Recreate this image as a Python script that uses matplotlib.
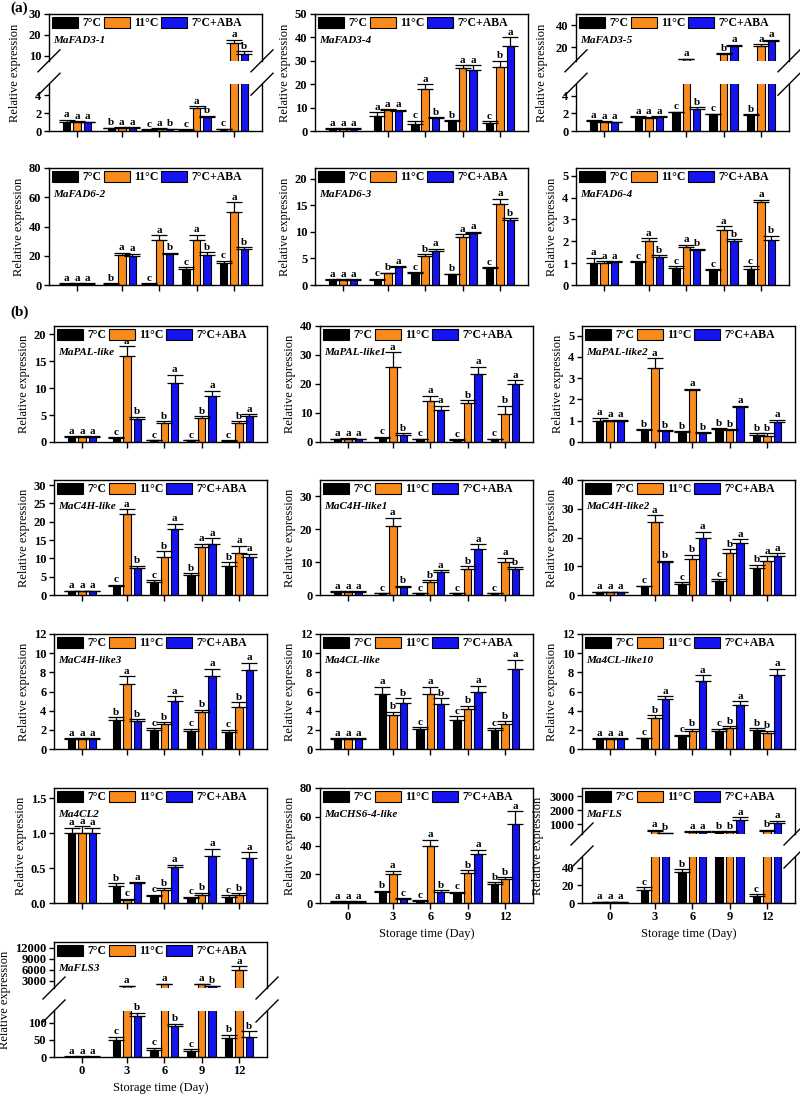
import numpy as np
import matplotlib
matplotlib.use("Agg")
import matplotlib.pyplot as plt
from matplotlib.patches import Patch
from matplotlib.lines import Line2D

plt.rcParams['font.family'] = ['Liberation Serif', 'DejaVu Serif']
plt.rcParams['font.weight'] = 'bold'
plt.rcParams['axes.linewidth'] = 1.0

days = ["0", "3", "6", "9", "12"]
treatments = ["7°C", "11°C", "7°C+ABA"]
colors = ["#000000", "#F98A1C", "#1414F0"]

# values per treatment (7C, 11C, 7C+ABA) over days 0,3,6,9,12; letters per day (7C,11C,ABA)
fad3_1_mean = [[1.0, 0.3, 0.15, 0.15, 0.2], [1.0, 0.35, 0.25, 2.6, 16.2], [1.0, 0.35, 0.22, 1.6, 11.0]]
fad3_1_err = [[0.25, 0.05, 0.05, 0.05, 0.05], [0.1, 0.1, 0.05, 0.15, 1.5], [0.05, 0.05, 0.05, 0.1, 1.0]]
fad3_1_sig = ["aaa", "baa", "cab", "cab", "cab"]

fad3_4_mean = [[1, 6.5, 3.2, 4.3, 3.5], [1, 8.8, 18, 27, 27.5], [1, 8.5, 5.5, 26, 36.5]]
fad3_4_err = [[0.3, 1.5, 1.2, 0.4, 0.6], [0.2, 0.5, 2, 1.2, 2.5], [0.2, 0.6, 0.3, 2, 3.5]]
fad3_4_sig = ["aaa", "aaa", "cab", "baa", "cba"]

fad3_5_mean = [[1.1, 1.6, 2.1, 1.9, 1.8], [1.0, 1.5, 9.0, 13.5, 21.5], [1.0, 1.6, 2.5, 21, 25.5]]
fad3_5_err = [[0.1, 0.1, 0.1, 0.05, 0.1], [0.1, 0.1, 0.4, 1, 1.5], [0.05, 0.1, 0.2, 1.5, 1.5]]
fad3_5_sig = ["aaa", "aaa", "cab", "cba", "baa"]

fad6_2_mean = [[1, 1, 1, 11, 15], [1, 20.5, 30.5, 31, 50], [1, 20, 21, 20.5, 24.5]]
fad6_2_err = [[0.2, 0.3, 0.3, 1.2, 1.5], [0.2, 1.5, 3.5, 3.5, 6.5], [0.2, 1.5, 1, 2, 1.5]]
fad6_2_sig = ["aaa", "baa", "cab", "cab", "cab"]

fad6_3_mean = [[1, 1.0, 2.2, 2.0, 3.2], [1, 2.2, 5.5, 9, 15.2], [1, 3.3, 6.3, 9.7, 12.3]]
fad6_3_err = [[0.1, 0.2, 0.2, 0.1, 0.1], [0.1, 0.1, 0.3, 0.5, 1], [0.1, 0.2, 0.5, 0.3, 0.3]]
fad6_3_sig = ["aaa", "cba", "cba", "baa", "cab"]

fad6_4_mean = [[1.0, 1.05, 0.8, 0.7, 0.75], [1.0, 2.0, 1.75, 2.5, 3.8], [1.05, 1.3, 1.6, 2.0, 2.05]]
fad6_4_err = [[0.25, 0.05, 0.05, 0.02, 0.1], [0.1, 0.15, 0.1, 0.2, 0.1], [0.05, 0.05, 0.05, 0.1, 0.2]]
fad6_4_sig = ["aaa", "cab", "cab", "cab", "cab"]

pal_mean = [[1, 0.8, 0.3, 0.3, 0.25], [1, 16, 3.5, 4.5, 3.5], [1, 4.3, 11, 8.5, 4.8]]
pal_err = [[0.1, 0.1, 0.05, 0.05, 0.05], [0.1, 1.8, 0.3, 0.3, 0.3], [0.1, 0.4, 1.5, 1, 0.3]]
pal_sig = ["aaa", "cab", "cba", "cba", "cba"]

pal1_mean = [[1, 1.5, 1, 0.8, 1], [1, 26, 14, 13.5, 9.5], [1, 2.5, 11, 23.5, 20]]
pal1_err = [[0.2, 0.3, 0.2, 0.2, 0.2], [0.3, 5, 2, 1, 3], [0.2, 0.5, 1.5, 2.5, 1.3]]
pal1_sig = ["aaa", "cab", "caa", "cba", "cba"]

pal2_mean = [[1.0, 0.55, 0.45, 0.6, 0.35], [1.0, 3.5, 2.45, 0.55, 0.3], [1.0, 0.5, 0.4, 1.65, 0.95]]
pal2_err = [[0.15, 0.05, 0.05, 0.05, 0.05], [0.05, 0.45, 0.05, 0.05, 0.1], [0.05, 0.05, 0.05, 0.05, 0.1]]
pal2_sig = ["aaa", "bab", "bab", "bba", "bba"]

c4h_mean = [[1, 2.5, 3.5, 5.5, 8], [1, 22, 10.5, 13, 11.5], [1, 7.5, 18, 14, 10.5]]
c4h_err = [[0.2, 0.3, 0.5, 0.5, 1], [0.2, 1.5, 1.5, 1, 2], [0.2, 0.5, 1.5, 1.5, 0.8]]
c4h_sig = ["aaa", "cab", "cba", "baa", "baa"]

c4h1_mean = [[1, 0.5, 0.5, 0.5, 0.5], [1, 21, 4, 8, 10], [1, 2.5, 7, 14, 8]]
c4h1_err = [[0.2, 0.1, 0.1, 0.1, 0.1], [0.2, 2.5, 0.5, 0.8, 1.3], [0.2, 0.3, 0.6, 1.5, 0.5]]
c4h1_sig = ["aaa", "cab", "cba", "cba", "cab"]

c4h2_mean = [[1, 3, 4, 5, 9.5], [1, 25.5, 12.5, 14.5, 12], [1, 11.5, 20, 18, 13.5]]
c4h2_err = [[0.2, 0.3, 0.4, 0.5, 1], [0.2, 2.3, 1.5, 1.5, 1.5], [0.2, 0.5, 2, 1.5, 1]]
c4h2_sig = ["aaa", "cab", "cba", "cba", "baa"]

c4h3_mean = [[1, 3.0, 2.0, 1.9, 1.8], [1, 6.8, 2.6, 3.9, 4.4], [1, 2.9, 5.0, 7.6, 8.2]]
c4h3_err = [[0.1, 0.3, 0.2, 0.2, 0.2], [0.1, 0.8, 0.2, 0.2, 0.5], [0.1, 0.2, 0.5, 0.8, 0.8]]
c4h3_sig = ["aaa", "bab", "cba", "cba", "cba"]

cl_mean = [[1, 5.7, 2.1, 3.0, 2.0], [1, 3.5, 5.7, 4.2, 2.6], [1, 4.8, 4.7, 5.9, 8.3]]
cl_err = [[0.1, 0.8, 0.2, 0.4, 0.2], [0.1, 0.4, 0.8, 0.3, 0.3], [0.1, 0.5, 0.6, 0.7, 1.0]]
cl_sig = ["aaa", "abb", "cab", "cba", "cba"]

cl10_mean = [[1, 1.1, 1.4, 1.9, 2.0], [1, 3.2, 1.9, 2.2, 1.7], [1, 5.2, 7.1, 4.6, 7.7]]
cl10_err = [[0.1, 0.1, 0.1, 0.2, 0.2], [0.1, 0.3, 0.2, 0.2, 0.2], [0.1, 0.3, 0.6, 0.4, 0.7]]
cl10_sig = ["aaa", "cba", "cba", "cba", "bba"]

cl2_mean = [[1.0, 0.25, 0.1, 0.07, 0.09], [1.0, 0.05, 0.18, 0.12, 0.12], [1.0, 0.28, 0.52, 0.68, 0.65]]
cl2_err = [[0.08, 0.03, 0.02, 0.02, 0.02], [0.1, 0.01, 0.03, 0.03, 0.02], [0.08, 0.02, 0.03, 0.1, 0.08]]
cl2_sig = ["aaa", "bca", "cba", "cba", "cba"]

chs_mean = [[1, 7.5, 1.5, 7, 13], [1, 20.5, 40, 21, 16.5], [1, 3, 8, 34, 55]]
chs_err = [[0.2, 1, 0.3, 1, 1.5], [0.2, 2, 4, 2, 1.5], [0.2, 0.5, 1, 3, 9]]
chs_sig = ["aaa", "bac", "cab", "cba", "bba"]

fls_mean = [[1, 15, 35, 450, 8], [1, 550, 450, 450, 550], [1, 350, 450, 1300, 1100]]
fls_err = [[0.3, 3, 3, 40, 2], [0.3, 60, 40, 40, 50], [0.3, 40, 40, 200, 150]]
fls_sig = ["aaa", "cab", "baa", "bba", "cba"]

fls3_mean = [[1, 50, 22, 18, 55], [1, 1500, 2000, 2000, 6000], [1, 120, 90, 1500, 60]]
fls3_err = [[0.5, 10, 5, 5, 10], [0.5, 150, 200, 200, 900], [0.5, 10, 8, 150, 15]]
fls3_sig = ["aaa", "cab", "cab", "cab", "bab"]

W, H = 800, 1097
fig = plt.figure(figsize=(W / 100, H / 100), dpi=100)

xpos = np.array([0, 1.2, 2.2, 3.2, 4.2])
xlim = (-0.75, 4.95)
offset, bw = 0.28, 0.2
panel_w = 213

rows_a = [(14, 131), (168, 285)]
rows_b = [(326, 442), (480, 595), (634, 749), (788, 903), (942, 1057)]
cols_a = [49, 315, 576]
cols_b = [54, 320, 582]

FS = 9


def to_rect(x, top, bot):
    return [x / W, 1 - bot / H, panel_w / W, (bot - top) / H]


def draw_bars(ax, mean, err, sig):
    for i in range(3):
        xs = xpos + (i - 1) * offset
        m = np.array(mean[i], dtype=float)
        e = np.array(err[i], dtype=float)
        ax.bar(xs, m, width=bw, color=colors[i], edgecolor="black", lw=0.8, zorder=2)
        ax.errorbar(xs, m, yerr=[np.zeros(5), e], fmt="none", ecolor="black",
                    elinewidth=0.9, capsize=6, capthick=0.9, zorder=3)
        for j in range(5):
            ax.annotate(sig[j][i], (xs[j], m[j] + e[j]), xytext=(0, 0.3),
                        textcoords="offset points", ha="center", va="bottom",
                        fontsize=8, zorder=4)


def style(ax, ylim, yticks, bottom_labels, show_x=True):
    ax.set_xlim(xlim)
    ax.set_ylim(ylim)
    ax.set_yticks(yticks)
    ax.tick_params(axis="y", direction="out", length=3.5, width=1, labelsize=FS, pad=2)
    if show_x:
        ax.set_xticks(xpos)
        ax.tick_params(axis="x", direction="out", length=4, width=1, labelsize=FS, pad=2)
        if bottom_labels:
            ax.set_xticklabels(days)
            ax.set_xlabel("Storage time (Day)", fontsize=FS, labelpad=3)
        else:
            ax.set_xticklabels([])
    else:
        ax.set_xticks([])


def add_head(ax, name):
    handles = [Patch(facecolor=c, edgecolor="black", lw=0.8) for c in colors]
    ax.legend(handles, treatments, ncol=3, loc="upper left", bbox_to_anchor=(0.0, 1.0),
              frameon=False, fontsize=8.5, handlelength=2.2, handleheight=1.0,
              handletextpad=0.35, columnspacing=0.25, borderaxespad=0.15, borderpad=0.1)
    ax.annotate(name, xy=(0, 1), xycoords="axes fraction", xytext=(3, -15.5),
                textcoords="offset points", va="top", ha="left", fontsize=8, style="italic")


def slash(xf, yf):
    dx, dy = 11 / W, 11 / H
    fig.add_artist(Line2D([xf - dx, xf + dx], [yf - dy, yf + dy], color="black", lw=1.0))


def simple_panel(x, top, bot, name, mean, err, sig, ylim, yticks, bottom_labels=False):
    ax = fig.add_axes(to_rect(x, top, bot))
    draw_bars(ax, mean, err, sig)
    style(ax, ylim, yticks, bottom_labels)
    ax.set_ylabel("Relative expression", fontsize=FS, labelpad=3)
    add_head(ax, name)
    return ax


def broken_panel(x, top, bot, name, mean, err, sig, low_lim, low_ticks, up_lim, up_ticks,
                 bottom_labels=False):
    h = bot - top
    up_bot = top + 0.40 * h
    low_top = top + 0.60 * h
    ax_up = fig.add_axes(to_rect(x, top, up_bot))
    ax_lo = fig.add_axes(to_rect(x, low_top, bot))
    for ax in (ax_up, ax_lo):
        draw_bars(ax, mean, err, sig)
    style(ax_up, up_lim, up_ticks, False, show_x=False)
    style(ax_lo, low_lim, low_ticks, bottom_labels)
    ax_up.spines["bottom"].set_visible(False)
    ax_lo.spines["top"].set_visible(False)
    ax_lo.set_ylabel("Relative expression", fontsize=FS)
    ndig = len(str(up_ticks[-1]))
    lab_x = {2: -0.13, 4: -0.18, 5: -0.2}.get(ndig, -0.13)
    ax_lo.yaxis.set_label_coords(lab_x, h / (bot - low_top) / 2)
    add_head(ax_up, name)
    for xp in (x, x + panel_w):
        slash(xp / W, 1 - up_bot / H)
        slash(xp / W, 1 - low_top / H)
    return ax_up, ax_lo


# (a)
broken_panel(cols_a[0], *rows_a[0], "MaFAD3-1", fad3_1_mean, fad3_1_err, fad3_1_sig,
             (0, 5.2), [0, 2, 4], (7.5, 30), [10, 20, 30])
simple_panel(cols_a[1], *rows_a[0], "MaFAD3-4", fad3_4_mean, fad3_4_err, fad3_4_sig,
             (0, 50), [0, 10, 20, 30, 40, 50])
broken_panel(cols_a[2], *rows_a[0], "MaFAD3-5", fad3_5_mean, fad3_5_err, fad3_5_sig,
             (0, 5.3), [0, 2, 4], (7.6, 50.5), [20, 40])
simple_panel(cols_a[0], *rows_a[1], "MaFAD6-2", fad6_2_mean, fad6_2_err, fad6_2_sig,
             (0, 80), [0, 20, 40, 60, 80])
simple_panel(cols_a[1], *rows_a[1], "MaFAD6-3", fad6_3_mean, fad6_3_err, fad6_3_sig,
             (0, 22), [0, 5, 10, 15, 20])
simple_panel(cols_a[2], *rows_a[1], "MaFAD6-4", fad6_4_mean, fad6_4_err, fad6_4_sig,
             (0, 5.35), [0, 1, 2, 3, 4, 5])

# (b)
simple_panel(cols_b[0], *rows_b[0], "MaPAL-like", pal_mean, pal_err, pal_sig,
             (0, 21.5), [0, 5, 10, 15, 20])
simple_panel(cols_b[1], *rows_b[0], "MaPAL-like1", pal1_mean, pal1_err, pal1_sig,
             (0, 40), [0, 10, 20, 30, 40])
simple_panel(cols_b[2], *rows_b[0], "MaPAL-like2", pal2_mean, pal2_err, pal2_sig,
             (0, 5.45), [0, 1, 2, 3, 4, 5])
simple_panel(cols_b[0], *rows_b[1], "MaC4H-like", c4h_mean, c4h_err, c4h_sig,
             (0, 31.4), [0, 5, 10, 15, 20, 25, 30])
simple_panel(cols_b[1], *rows_b[1], "MaC4H-like1", c4h1_mean, c4h1_err, c4h1_sig,
             (0, 35), [0, 10, 20, 30])
simple_panel(cols_b[2], *rows_b[1], "MaC4H-like2", c4h2_mean, c4h2_err, c4h2_sig,
             (0, 40), [0, 10, 20, 30, 40])
simple_panel(cols_b[0], *rows_b[2], "MaC4H-like3", c4h3_mean, c4h3_err, c4h3_sig,
             (0, 12), [0, 2, 4, 6, 8, 10, 12])
simple_panel(cols_b[1], *rows_b[2], "Ma4CL-like", cl_mean, cl_err, cl_sig,
             (0, 12), [0, 2, 4, 6, 8, 10, 12])
simple_panel(cols_b[2], *rows_b[2], "Ma4CL-like10", cl10_mean, cl10_err, cl10_sig,
             (0, 12), [0, 2, 4, 6, 8, 10, 12])
simple_panel(cols_b[0], *rows_b[3], "Ma4CL2", cl2_mean, cl2_err, cl2_sig,
             (0, 1.65), [0, 0.5, 1.0, 1.5])
simple_panel(cols_b[1], *rows_b[3], "MaCHS6-4-like", chs_mean, chs_err, chs_sig,
             (0, 80), [0, 20, 40, 60, 80], bottom_labels=True)
broken_panel(cols_b[2], *rows_b[3], "MaFLS", fls_mean, fls_err, fls_sig,
             (0, 52), [0, 20, 40], (300, 3600), [1000, 2000, 3000], bottom_labels=True)
broken_panel(cols_b[0], *rows_b[4], "MaFLS3", fls3_mean, fls3_err, fls3_sig,
             (0, 135), [0, 50, 100], (1000, 13500), [3000, 6000, 9000, 12000], bottom_labels=True)

fig.text(10 / W, 1 - 8 / H, "(a)", fontsize=11, va="center")
fig.text(10 / W, 1 - 312 / H, "(b)", fontsize=11, va="center")

fig.savefig("out.png", dpi=100)
